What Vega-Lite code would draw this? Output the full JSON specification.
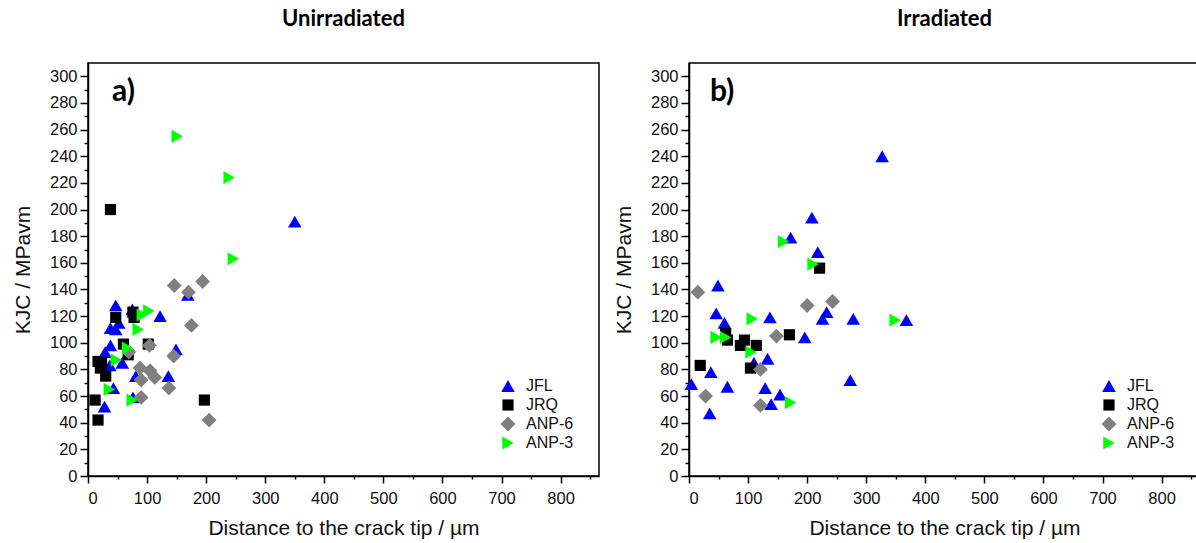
{
  "$schema": "https://vega.github.io/schema/vega-lite/v6.json",
  "background": "white",
  "padding": {"left": 11, "top": 7, "right": 0, "bottom": 0},
  "config": {
    "view": {"stroke": "black", "strokeWidth": 1.5},
    "font": "Liberation Sans",
    "axis": {
      "domainColor": "black", "domainWidth": 1.5, "tickColor": "black", "tickWidth": 1.5,
      "labelFont": "Liberation Sans", "labelFontSize": 16.5, "labelColor": "#111",
      "titleFont": "Liberation Sans", "titleFontSize": 21, "titleFontWeight": "normal", "titleColor": "#111",
      "grid": false, "labelOverlap": false
    },
    "legend": {
      "orient": "bottom-right", "offset": 25, "labelFont": "Liberation Sans", "labelFontSize": 16,
      "labelColor": "#111", "rowPadding": 3, "labelOffset": 10, "symbolStrokeWidth": 0
    },
    "title": {"font": "Lato", "fontWeight": "bold", "fontSize": 22, "color": "black", "offset": 32}
  },
  "data": {"values": [
    {"panel": "a", "series": "JFL", "x": 350, "y": 191},
    {"panel": "a", "series": "JFL", "x": 169, "y": 136},
    {"panel": "a", "series": "JFL", "x": 47, "y": 128},
    {"panel": "a", "series": "JFL", "x": 75, "y": 125},
    {"panel": "a", "series": "JFL", "x": 122, "y": 120},
    {"panel": "a", "series": "JFL", "x": 38, "y": 111},
    {"panel": "a", "series": "JFL", "x": 47, "y": 110},
    {"panel": "a", "series": "JFL", "x": 52, "y": 115},
    {"panel": "a", "series": "JFL", "x": 38, "y": 98},
    {"panel": "a", "series": "JFL", "x": 29, "y": 93},
    {"panel": "a", "series": "JFL", "x": 149, "y": 95},
    {"panel": "a", "series": "JFL", "x": 37, "y": 83},
    {"panel": "a", "series": "JFL", "x": 58, "y": 85},
    {"panel": "a", "series": "JFL", "x": 81, "y": 75},
    {"panel": "a", "series": "JFL", "x": 136, "y": 75},
    {"panel": "a", "series": "JFL", "x": 43, "y": 66},
    {"panel": "a", "series": "JFL", "x": 76, "y": 59},
    {"panel": "a", "series": "JFL", "x": 28, "y": 52},
    {"panel": "a", "series": "JRQ", "x": 38, "y": 200},
    {"panel": "a", "series": "JRQ", "x": 76, "y": 123},
    {"panel": "a", "series": "JRQ", "x": 47, "y": 119},
    {"panel": "a", "series": "JRQ", "x": 78, "y": 119},
    {"panel": "a", "series": "JRQ", "x": 60, "y": 99},
    {"panel": "a", "series": "JRQ", "x": 102, "y": 99},
    {"panel": "a", "series": "JRQ", "x": 68, "y": 91},
    {"panel": "a", "series": "JRQ", "x": 17, "y": 86},
    {"panel": "a", "series": "JRQ", "x": 23, "y": 85},
    {"panel": "a", "series": "JRQ", "x": 21, "y": 81},
    {"panel": "a", "series": "JRQ", "x": 30, "y": 75},
    {"panel": "a", "series": "JRQ", "x": 12, "y": 57},
    {"panel": "a", "series": "JRQ", "x": 197, "y": 57},
    {"panel": "a", "series": "JRQ", "x": 17, "y": 42},
    {"panel": "a", "series": "ANP-6", "x": 146, "y": 143},
    {"panel": "a", "series": "ANP-6", "x": 194, "y": 146},
    {"panel": "a", "series": "ANP-6", "x": 170, "y": 138},
    {"panel": "a", "series": "ANP-6", "x": 175, "y": 113},
    {"panel": "a", "series": "ANP-6", "x": 104, "y": 98},
    {"panel": "a", "series": "ANP-6", "x": 69, "y": 93},
    {"panel": "a", "series": "ANP-6", "x": 145, "y": 90},
    {"panel": "a", "series": "ANP-6", "x": 88, "y": 81},
    {"panel": "a", "series": "ANP-6", "x": 105, "y": 79},
    {"panel": "a", "series": "ANP-6", "x": 113, "y": 74},
    {"panel": "a", "series": "ANP-6", "x": 90, "y": 72},
    {"panel": "a", "series": "ANP-6", "x": 137, "y": 66},
    {"panel": "a", "series": "ANP-6", "x": 90, "y": 59},
    {"panel": "a", "series": "ANP-6", "x": 205, "y": 42},
    {"panel": "a", "series": "ANP-3", "x": 151, "y": 255},
    {"panel": "a", "series": "ANP-3", "x": 239, "y": 224},
    {"panel": "a", "series": "ANP-3", "x": 246, "y": 163},
    {"panel": "a", "series": "ANP-3", "x": 92, "y": 121},
    {"panel": "a", "series": "ANP-3", "x": 103, "y": 124},
    {"panel": "a", "series": "ANP-3", "x": 85, "y": 110},
    {"panel": "a", "series": "ANP-3", "x": 67, "y": 96},
    {"panel": "a", "series": "ANP-3", "x": 48, "y": 87},
    {"panel": "a", "series": "ANP-3", "x": 36, "y": 65},
    {"panel": "a", "series": "ANP-3", "x": 75, "y": 57},
    {"panel": "b", "series": "JFL", "x": 327, "y": 240},
    {"panel": "b", "series": "JFL", "x": 208, "y": 194},
    {"panel": "b", "series": "JFL", "x": 172, "y": 179},
    {"panel": "b", "series": "JFL", "x": 218, "y": 168},
    {"panel": "b", "series": "JFL", "x": 49, "y": 143},
    {"panel": "b", "series": "JFL", "x": 233, "y": 123},
    {"panel": "b", "series": "JFL", "x": 226, "y": 118},
    {"panel": "b", "series": "JFL", "x": 46, "y": 122},
    {"panel": "b", "series": "JFL", "x": 60, "y": 115},
    {"panel": "b", "series": "JFL", "x": 137, "y": 119},
    {"panel": "b", "series": "JFL", "x": 278, "y": 118},
    {"panel": "b", "series": "JFL", "x": 368, "y": 117},
    {"panel": "b", "series": "JFL", "x": 196, "y": 104},
    {"panel": "b", "series": "JFL", "x": 110, "y": 85},
    {"panel": "b", "series": "JFL", "x": 133, "y": 88},
    {"panel": "b", "series": "JFL", "x": 37, "y": 78},
    {"panel": "b", "series": "JFL", "x": 273, "y": 72},
    {"panel": "b", "series": "JFL", "x": 4, "y": 69},
    {"panel": "b", "series": "JFL", "x": 65, "y": 67},
    {"panel": "b", "series": "JFL", "x": 129, "y": 66},
    {"panel": "b", "series": "JFL", "x": 154, "y": 61},
    {"panel": "b", "series": "JFL", "x": 139, "y": 54},
    {"panel": "b", "series": "JFL", "x": 35, "y": 47},
    {"panel": "b", "series": "JRQ", "x": 221, "y": 156},
    {"panel": "b", "series": "JRQ", "x": 62, "y": 107},
    {"panel": "b", "series": "JRQ", "x": 65, "y": 102},
    {"panel": "b", "series": "JRQ", "x": 170, "y": 106},
    {"panel": "b", "series": "JRQ", "x": 94, "y": 102},
    {"panel": "b", "series": "JRQ", "x": 87, "y": 98},
    {"panel": "b", "series": "JRQ", "x": 114, "y": 98},
    {"panel": "b", "series": "JRQ", "x": 19, "y": 83},
    {"panel": "b", "series": "JRQ", "x": 104, "y": 81},
    {"panel": "b", "series": "ANP-6", "x": 15, "y": 138},
    {"panel": "b", "series": "ANP-6", "x": 200, "y": 128},
    {"panel": "b", "series": "ANP-6", "x": 243, "y": 131},
    {"panel": "b", "series": "ANP-6", "x": 148, "y": 105},
    {"panel": "b", "series": "ANP-6", "x": 121, "y": 80},
    {"panel": "b", "series": "ANP-6", "x": 28, "y": 60},
    {"panel": "b", "series": "ANP-6", "x": 121, "y": 53},
    {"panel": "b", "series": "ANP-3", "x": 160, "y": 176},
    {"panel": "b", "series": "ANP-3", "x": 210, "y": 159},
    {"panel": "b", "series": "ANP-3", "x": 107, "y": 118},
    {"panel": "b", "series": "ANP-3", "x": 349, "y": 117},
    {"panel": "b", "series": "ANP-3", "x": 46, "y": 104},
    {"panel": "b", "series": "ANP-3", "x": 62, "y": 104},
    {"panel": "b", "series": "ANP-3", "x": 105, "y": 93},
    {"panel": "b", "series": "ANP-3", "x": 172, "y": 55}
  ]},
  "spacing": 12,
  "resolve": {"legend": {"color": "independent", "shape": "independent", "size": "independent"}},
  "hconcat": [
    {
      "width": 511, "height": 413,
      "title": {"text": "Unirradiated"},
      "resolve": {"axis": {"x": "independent", "y": "independent"}},
      "layer": [
        {
          "transform": [{"filter": "datum.panel === 'a'"}],
          "mark": {"type": "point", "filled": true, "opacity": 1},
          "encoding": {
            "x": {"field": "x", "type": "quantitative",
              "scale": {"domain": [0, 865], "nice": false, "zero": false},
              "axis": {"orient": "bottom", "title": "Distance to the crack tip / µm", "titlePadding": 11, "labelPadding": 7, "labelOverlap": false,
                "values": [0, 100, 200, 300, 400, 500, 600, 700, 800], "tickSize": 7}},
            "y": {"field": "y", "type": "quantitative",
              "scale": {"domain": [0, 310], "nice": false, "zero": false},
              "axis": {"orient": "left", "title": "KJC / MPavm", "titlePadding": 16, "labelPadding": 3, "labelOverlap": false,
                "values": [0, 20, 40, 60, 80, 100, 120, 140, 160, 180, 200, 220, 240, 260, 280, 300], "tickSize": 8}},
            "shape": {"field": "series", "type": "nominal", "legend": {"title": null},
              "scale": {"domain": ["JFL", "JRQ", "ANP-6", "ANP-3"], "range": ["triangle-up", "square", "diamond", "triangle-right"]}},
            "color": {"field": "series", "type": "nominal", "legend": {"title": null},
              "scale": {"domain": ["JFL", "JRQ", "ANP-6", "ANP-3"], "range": ["#0000ff", "#000000", "#808080", "#00ff00"]}},
            "size": {"field": "series", "type": "ordinal", "legend": {"title": null},
              "scale": {"type": "ordinal", "domain": ["JFL", "JRQ", "ANP-6", "ANP-3"], "range": [185, 125, 220, 175]}}
          }
        },
        {
          "data": {"values": [{"lab": "a)", "x": 60, "y": 288}]},
          "mark": {"type": "text", "font": "Lato", "fontWeight": "bold", "fontSize": 30, "align": "center", "baseline": "middle", "color": "black"},
          "encoding": {
            "x": {"field": "x", "type": "quantitative",
              "axis": {"orient": "bottom", "title": null, "labels": false, "domain": false, "tickSize": 3,
                "values": [50, 150, 250, 350, 450, 550, 650, 750, 850]}},
            "y": {"field": "y", "type": "quantitative",
              "axis": {"orient": "left", "title": null, "labels": false, "domain": false, "tickSize": 4,
                "values": [10, 30, 50, 70, 90, 110, 130, 150, 170, 190, 210, 230, 250, 270, 290]}},
            "text": {"field": "lab"}
          }
        }
      ]
    },
    {
      "width": 511, "height": 413,
      "title": {"text": "Irradiated"},
      "resolve": {"axis": {"x": "independent", "y": "independent"}},
      "layer": [
        {
          "transform": [{"filter": "datum.panel === 'b'"}],
          "mark": {"type": "point", "filled": true, "opacity": 1},
          "encoding": {
            "x": {"field": "x", "type": "quantitative",
              "scale": {"domain": [0, 865], "nice": false, "zero": false},
              "axis": {"orient": "bottom", "title": "Distance to the crack tip / µm", "titlePadding": 11, "labelPadding": 7, "labelOverlap": false,
                "values": [0, 100, 200, 300, 400, 500, 600, 700, 800], "tickSize": 7}},
            "y": {"field": "y", "type": "quantitative",
              "scale": {"domain": [0, 310], "nice": false, "zero": false},
              "axis": {"orient": "left", "title": "KJC / MPavm", "titlePadding": 16, "labelPadding": 3, "labelOverlap": false,
                "values": [0, 20, 40, 60, 80, 100, 120, 140, 160, 180, 200, 220, 240, 260, 280, 300], "tickSize": 8}},
            "shape": {"field": "series", "type": "nominal", "legend": {"title": null},
              "scale": {"domain": ["JFL", "JRQ", "ANP-6", "ANP-3"], "range": ["triangle-up", "square", "diamond", "triangle-right"]}},
            "color": {"field": "series", "type": "nominal", "legend": {"title": null},
              "scale": {"domain": ["JFL", "JRQ", "ANP-6", "ANP-3"], "range": ["#0000ff", "#000000", "#808080", "#00ff00"]}},
            "size": {"field": "series", "type": "ordinal", "legend": {"title": null},
              "scale": {"type": "ordinal", "domain": ["JFL", "JRQ", "ANP-6", "ANP-3"], "range": [185, 125, 220, 175]}}
          }
        },
        {
          "data": {"values": [{"lab": "b)", "x": 56, "y": 288}]},
          "mark": {"type": "text", "font": "Lato", "fontWeight": "bold", "fontSize": 30, "align": "center", "baseline": "middle", "color": "black"},
          "encoding": {
            "x": {"field": "x", "type": "quantitative",
              "axis": {"orient": "bottom", "title": null, "labels": false, "domain": false, "tickSize": 3,
                "values": [50, 150, 250, 350, 450, 550, 650, 750, 850]}},
            "y": {"field": "y", "type": "quantitative",
              "axis": {"orient": "left", "title": null, "labels": false, "domain": false, "tickSize": 4,
                "values": [10, 30, 50, 70, 90, 110, 130, 150, 170, 190, 210, 230, 250, 270, 290]}},
            "text": {"field": "lab"}
          }
        }
      ]
    }
  ]
}
